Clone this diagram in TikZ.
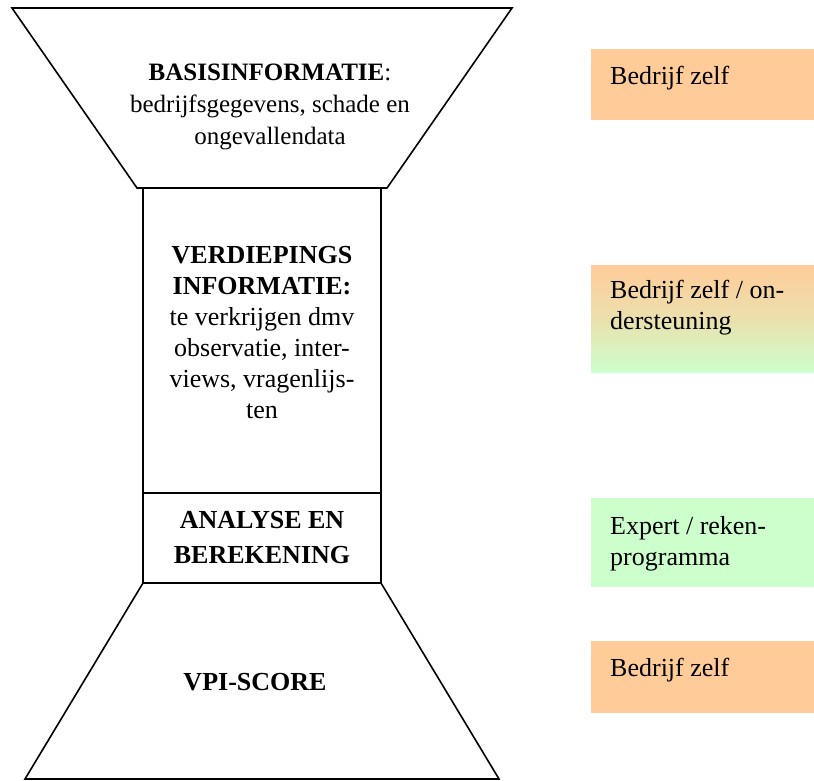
\documentclass[tikz,border=0pt]{standalone}
\usepackage{fontspec}
\setmainfont{Liberation Serif}
\definecolor{boxorange}{HTML}{FFCC99}
\definecolor{boxgreen}{HTML}{CCFFCC}
\tikzset{
  funnel/.style={draw, line width=1.6pt, line join=miter, fill=white},
  midtext/.style={align=center, font=\fontsize{26}{31}\selectfont, inner sep=0pt},
  sidetext/.style={align=left, anchor=base west, font=\fontsize{26}{31}\selectfont, inner sep=0pt}
}
\begin{document}
\begin{tikzpicture}[x=1pt, y=-1pt]
\useasboundingbox (0,0) rectangle (814,780);
\draw[funnel] (12,8) -- (512,8) -- (387,188) -- (137,188) -- cycle;
\draw[funnel] (143,188) rectangle (381,583);
\draw[funnel] (143,493) -- (381,493);
\draw[funnel] (143,583) -- (381,583) -- (499,779) -- (25,779) -- cycle;
\node[midtext, font=\fontsize{25}{32}\selectfont] (basis) at (270,107) {\textbf{BASISINFORMATIE}:\\bedrijfsgegevens, schade en\\ongevallendata};
\node[midtext] (verdieping) at (262,333) {\textbf{VERDIEPINGS}\\\textbf{INFORMATIE:}\\te verkrijgen dmv\\observatie, inter-\\views, vragenlijs-\\ten};
\node[midtext, font=\fontsize{26}{35}\selectfont] (analyse) at (262,538) {\textbf{ANALYSE EN}\\\textbf{BEREKENING}};
\node[midtext] (score) at (255,682) {\textbf{VPI-SCORE}};
\fill[boxorange] (591,49) rectangle (814,120);
\shade[top color=boxorange, bottom color=boxgreen, middle color=boxorange!60!boxgreen] (591,265) rectangle (814,372);
\fill[boxgreen] (591,498) rectangle (814,587);
\fill[boxorange] (591,641) rectangle (814,713);
\node[sidetext] (bron1) at (610,84) {Bedrijf zelf};
\node[sidetext] (bron2) at (610,329) {Bedrijf zelf / on-\\dersteuning};
\node[sidetext] (bron3) at (610,565) {Expert / reken-\\programma};
\node[sidetext] (bron4) at (610,676) {Bedrijf zelf};
\end{tikzpicture}
\end{document}
